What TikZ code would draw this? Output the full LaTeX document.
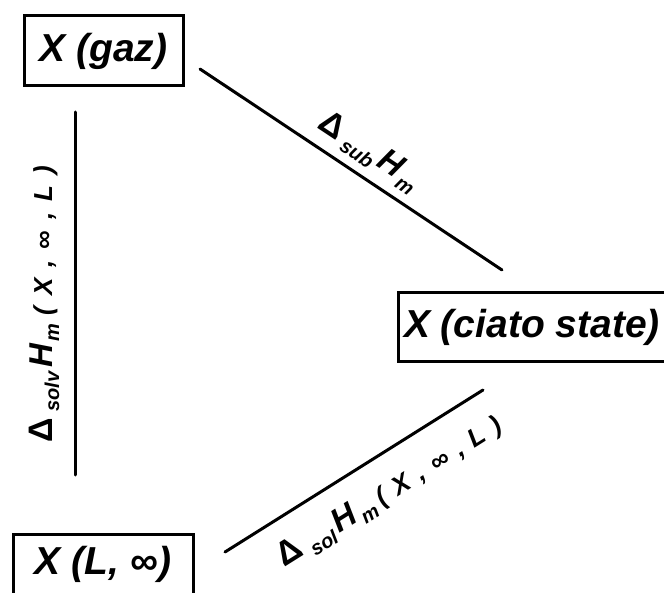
\documentclass[tikz,border=0pt]{standalone}
\usepackage{fontspec}
\setmainfont{Liberation Sans}
\newcommand{\subtx}[1]{\raisebox{-7pt}{\fontsize{20}{20}\selectfont #1}}
\newcommand{\partx}[1]{{\fontsize{26}{26}\selectfont #1}}
\newcommand{\dlt}{{\upshape\fontsize{34}{34}\selectfont Δ}}
\begin{document}
\begin{tikzpicture}[x=1pt,y=-1pt,
  box/.style={draw, line width=3pt, inner sep=0pt, align=center,
    font=\bfseries\itshape\fontsize{39}{39}\selectfont},
  conn/.style={line width=3pt, line cap=round},
  lbl/.style={inner sep=0pt, font=\bfseries\itshape\fontsize{33}{33}\selectfont}]
\useasboundingbox (0,0) rectangle (664,593);
\clip (0,0) rectangle (664,593);
% boxes
\node[box, minimum width=159pt, minimum height=70pt] (gaz) at (103.5,51) {X (gaz)};
\node[box, minimum width=268pt, minimum height=69pt] (ciato) at (532,327.5) {X (ciato state)};
\node[box, minimum width=180pt, minimum height=61pt] (liq) at (103,564.5) {X (L, ∞)};
% connector end points
\coordinate (g1) at (200,69);
\coordinate (c1) at (502,270);
\coordinate (v1) at (75,112);
\coordinate (v2) at (75,475);
\coordinate (l1) at (225,552);
\coordinate (c2) at (483,390);
\draw[conn] (g1) -- (c1);
\draw[conn] (v1) -- (v2);
\draw[conn] (l1) -- (c2);
% labels
\node[lbl, rotate=-33.6] (lsub) at (369,152) {\dlt\kern6pt\subtx{sub}\kern4pt H\kern3pt\subtx{m}};
\node[lbl, rotate=90] (lsolv) at (44,304) {\dlt\kern6pt\subtx{solv}\kern4pt H\kern3pt\subtx{m}\kern8pt\partx{(\kern11pt X\kern11pt,\kern11pt ∞\kern11pt,\kern11pt L\kern11pt)}};
\node[lbl, rotate=32.1] (lsol) at (390,492) {\dlt\kern8pt\subtx{sol}\kern4pt H\kern3pt\subtx{m}\kern6pt\partx{(\kern10pt X\kern10pt,\kern10pt ∞\kern10pt,\kern10pt L\kern10pt)}};
\end{tikzpicture}
\end{document}
